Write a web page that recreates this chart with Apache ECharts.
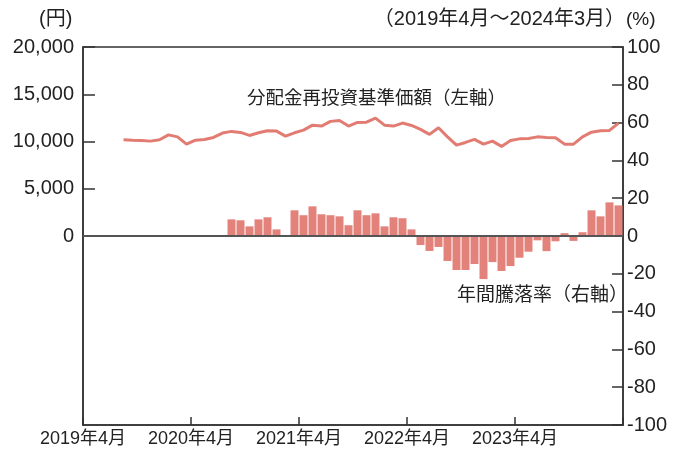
<!DOCTYPE html>
<html><head><meta charset="utf-8">
<script src="https://cdn.jsdelivr.net/npm/echarts@6/dist/echarts.min.js"></script>
<style>html,body{margin:0;padding:0;background:#fff}#c{width:675px;height:451px}</style>
</head><body><div id="c"></div>
<script>
// x axis: month index from 2019年4月 (0) to 2024年4月 (60)
const xTickLabels = ['2019年4月','2020年4月','2021年4月','2022年4月','2023年4月',''];
const leftTicks = [0,5000,10000,15000,20000];
const rightTicks = [100,80,60,40,20,0,-20,-40,-60,-80,-100];
// 分配金再投資基準価額 monthly, from 2019年8月 (month index 4) to 2024年3月
const navStartIndex = 4;
const navValues = [10180,10140,10110,10040,10180,10700,10490,9720,10140,10220,10430,10890,
  11070,10960,10640,10920,11130,11100,10570,10920,11200,11730,11630,12130,
  12230,11630,12020,12050,12480,11730,11630,11950,11700,11280,10750,11450,
  10490,9610,9900,10230,9720,10040,9480,10110,10280,10320,10490,10430,
  10390,9720,9720,10490,10990,11130,11170,11950];
// 年間騰落率 (%) monthly, from 2020年8月 (month index 16) to 2024年3月
const retStartIndex = 16;
const retValues = [8.8,8.3,5.1,8.8,9.9,3.5,0.5,13.6,11.0,15.7,11.5,11.0,10.4,5.7,13.6,11.0,
  12.0,5.1,9.9,9.4,3.5,-4.8,-7.9,-5.8,-13.2,-18.0,-18.0,-14.8,-22.8,-13.8,-18.5,-15.9,
  -11.5,-8.3,-2.3,-8.0,-2.8,1.5,-2.6,2.0,13.6,10.4,17.8,16.2];
const navLabel = '分配金再投資基準価額（左軸）';
const retLabel = '年間騰落率（右軸）';
const periodLabel = '（2019年4月～2024年3月）';

const FONT = '"Liberation Sans","Noto Sans CJK JP",sans-serif';
const lineColor = '#E27C72';
const barColor = '#E3827A';

const chart = echarts.init(document.getElementById('c'), null, {renderer:'canvas'});
chart.setOption({
  animation:false,
  backgroundColor:'#fff',
  grid:{left:83,right:52,top:47,bottom:26,show:true,borderColor:'#333',borderWidth:1.5},
  xAxis:{type:'value',min:0,max:60,interval:12,
    axisLine:{show:true,onZero:false,lineStyle:{color:'#333',width:1.5}},
    axisTick:{show:true,inside:true,length:8,lineStyle:{color:'#333',width:1.5}},
    splitLine:{show:false},
    axisLabel:{color:'#222',fontSize:18,fontFamily:FONT,margin:5,
      formatter:v=>xTickLabels[Math.round(v/12)]||''}},
  yAxis:[
    {type:'value',min:-20000,max:20000,interval:5000,position:'left',
     axisLine:{show:true,lineStyle:{color:'#333',width:1.5}},
     axisTick:{show:true,inside:true,length:12,customValues:leftTicks,lineStyle:{color:'#333',width:1.5}},
     splitLine:{show:false},
     axisLabel:{color:'#222',fontSize:20,fontFamily:FONT,margin:9,customValues:leftTicks,
       formatter:v=>v.toLocaleString('en-US')}},
    {type:'value',min:-100,max:100,interval:20,position:'right',
     axisLine:{show:true,lineStyle:{color:'#333',width:1.5}},
     axisTick:{show:true,inside:true,length:11,customValues:rightTicks,lineStyle:{color:'#333',width:1.5}},
     splitLine:{show:false},
     axisLabel:{color:'#222',fontSize:20,fontFamily:FONT,margin:4,customValues:rightTicks}}
  ],
  series:[
    {type:'bar',yAxisIndex:1,barWidth:8,
     itemStyle:{color:barColor},
     data:retValues.map((v,i)=>[retStartIndex+i+0.5,v]),
     markLine:{silent:true,symbol:'none',label:{show:false},
       lineStyle:{color:'#555',width:2,type:'solid'},data:[{yAxis:0}]}},
    {type:'line',yAxisIndex:0,symbol:'none',
     lineStyle:{color:lineColor,width:3},
     data:navValues.map((v,i)=>[navStartIndex+i+0.5,v])}
  ],
  graphic:[
    {type:'text',left:39,top:9,style:{text:'(円)',font:'20px '+FONT,fill:'#222'}},
    {type:'text',left:626,top:10,style:{text:'(%)',font:'19px '+FONT,fill:'#222'}},
    {type:'text',right:50,top:9,style:{text:periodLabel,font:'20px '+FONT,fill:'#222'}},
    {type:'text',left:247,top:90,style:{text:navLabel,font:'18.5px '+FONT,fill:'#222'}},
    {type:'text',left:457,top:286,style:{text:retLabel,font:'19px '+FONT,fill:'#222'}}
  ]
});
</script></body></html>
